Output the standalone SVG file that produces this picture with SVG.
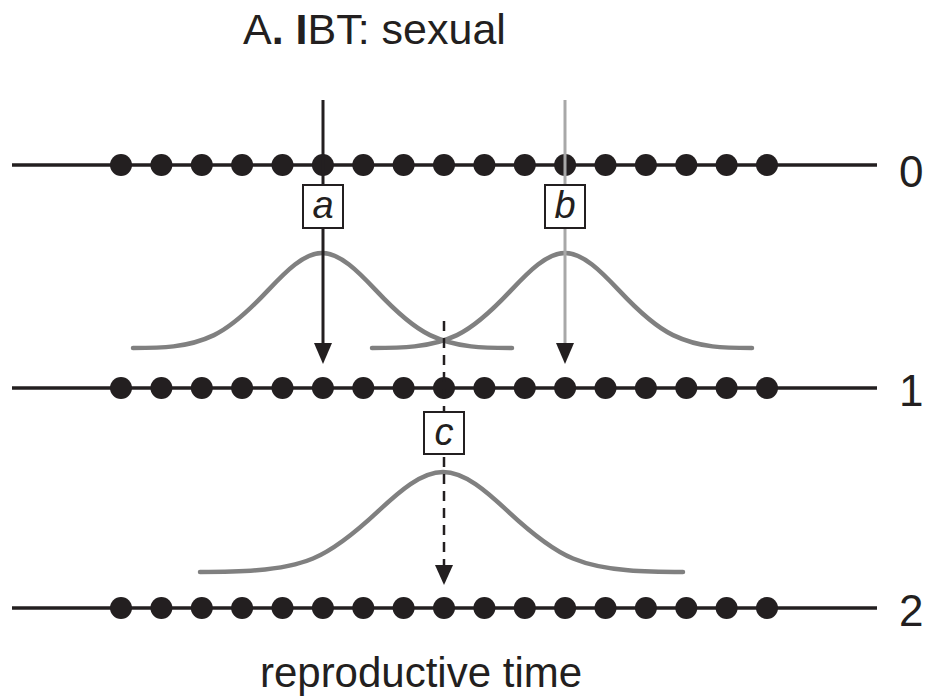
<svg xmlns="http://www.w3.org/2000/svg" width="925" height="697" viewBox="0 0 925 697">
<style>
.txt{font-family:"Liberation Sans",Arial,sans-serif;fill:#231f20}
.axis{stroke:#231f20;stroke-width:3.5;fill:none}
.dot{fill:#231f20}
.curve{stroke:#808080;stroke-width:4.5;fill:none;stroke-linecap:round}
.box{fill:#fff;stroke:#231f20;stroke-width:2}
.lbl{font-family:"Liberation Sans",Arial,sans-serif;font-style:italic;font-size:38px;fill:#231f20;text-anchor:middle}
</style>
<defs>
<g id="dots">
<circle class="dot" cx="121" cy="0" r="11"/><circle class="dot" cx="161.4" cy="0" r="11"/><circle class="dot" cx="201.8" cy="0" r="11"/><circle class="dot" cx="242.1" cy="0" r="11"/><circle class="dot" cx="282.5" cy="0" r="11"/><circle class="dot" cx="322.9" cy="0" r="11"/><circle class="dot" cx="363.3" cy="0" r="11"/><circle class="dot" cx="403.6" cy="0" r="11"/><circle class="dot" cx="444" cy="0" r="11"/><circle class="dot" cx="484.4" cy="0" r="11"/><circle class="dot" cx="524.8" cy="0" r="11"/><circle class="dot" cx="565.1" cy="0" r="11"/><circle class="dot" cx="605.5" cy="0" r="11"/><circle class="dot" cx="645.9" cy="0" r="11"/><circle class="dot" cx="686.3" cy="0" r="11"/><circle class="dot" cx="726.6" cy="0" r="11"/><circle class="dot" cx="767" cy="0" r="11"/>
</g>
</defs>
<rect width="925" height="697" fill="#fff"/>
<text class="txt" x="243" y="44" font-size="43">A<tspan font-weight="bold">. I</tspan>BT: sexual</text>

<g id="curves">
<path class="curve" d="M133,348 C160,348 187,348 214,335.1 C232,326.6 250,309.6 268,290.4 C286,271.2 304,253 322,253 C340,253 358,271.2 376,290.4 C394,309.6 412,326.6 430,335.1 C457,348 485,348 512,348"/>
<path class="curve" d="M372,348 C399,348 430,348 457,335.1 C475,326.6 493,309.6 511,290.4 C529,271.2 547,253 565,253 C583,253 601,271.2 619,290.4 C637,309.6 655,326.6 673,335.1 C700,348 725,348 752,348"/>
<path class="curve" d="M200,572 C232.5,572 280.5,572 313,558.5 C334.7,549.45 356.3,531.6 378,511.35 C399.7,491.1 421.3,472 443,472 C464.7,472 486.3,491.1 508,511.35 C529.7,531.6 551.3,549.45 573,558.5 C605.5,572 650.5,572 683,572"/>
</g>

<g id="gen0">
<line class="axis" x1="12" y1="165" x2="877" y2="165"/>
<use href="#dots" y="165"/>
<text class="txt" x="899" y="187" font-size="44">0</text>
</g>
<g id="gen1">
<line class="axis" x1="12" y1="388" x2="877" y2="388"/>
<use href="#dots" y="388"/>
<text class="txt" x="899" y="406" font-size="44">1</text>
</g>
<g id="gen2">
<line class="axis" x1="12" y1="608" x2="877" y2="608"/>
<use href="#dots" y="608"/>
<text class="txt" x="899" y="626" font-size="44">2</text>
</g>

<g id="connectors">
<line x1="323" y1="100" x2="323" y2="346" stroke="#231f20" stroke-width="3"/>
<polygon points="314,343 332,343 323,364" fill="#231f20"/>
<line x1="565" y1="100" x2="565" y2="346" stroke="#a8a8a8" stroke-width="3"/>
<polygon points="556,343 574,343 565,364" fill="#231f20"/>
<line x1="444" y1="321" x2="444" y2="566" stroke="#231f20" stroke-width="2.5" stroke-dasharray="10,7"/>
<polygon points="435,565 453,565 444,585" fill="#231f20"/>
</g>

<g id="box-a">
<rect class="box" x="303" y="185" width="40" height="43"/>
<text class="lbl" x="323" y="218">a</text>
</g>
<g id="box-b">
<rect class="box" x="545" y="185" width="40" height="43"/>
<text class="lbl" x="565" y="218">b</text>
</g>
<g id="box-c">
<rect class="box" x="424" y="412" width="40" height="42"/>
<text class="lbl" x="444" y="445">c</text>
</g>

<text class="txt" x="421" y="687" font-size="42" text-anchor="middle">reproductive time</text>
</svg>
